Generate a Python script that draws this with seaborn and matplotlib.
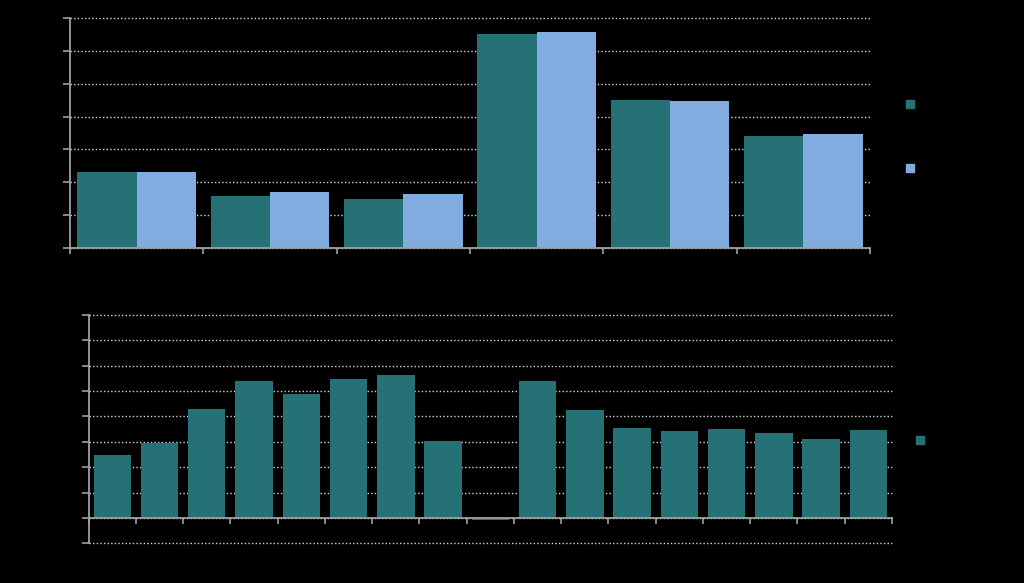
import numpy as np
import pandas as pd
import matplotlib
matplotlib.use('Agg')
import matplotlib.pyplot as plt
from matplotlib.lines import Line2D
import seaborn as sns

sns.set_style('dark')
plt.rcParams['font.family'] = ['DejaVu Sans']

# top panel: two series per group
top_categories = ['1', '2', '3', '4', '5', '6']
top_series_names = ['Series 1', 'Series 2']
top_series_a = [2.30, 1.59, 1.50, 6.51, 4.50, 3.40]
top_series_b = [2.30, 1.70, 1.64, 6.57, 4.48, 3.46]

# bottom panel: single series
bottom_categories = [str(i) for i in range(1, 18)]
bottom_series_name = 'Series 1'
bottom_values = [2.48, 2.97, 4.28, 5.41, 4.87, 5.47, 5.62, 3.02, -0.08,
                 5.41, 4.24, 3.53, 3.44, 3.49, 3.35, 3.10, 3.46]

teal = '#267176'
lightblue = '#82abe0'
axis_col = '#a0a0a0'
grid_col = '#d8d8d8'
txt_col = 'black'

fig = plt.figure(figsize=(10.24, 5.83), dpi=100, facecolor='black')
ax1 = fig.add_axes([70 / 1024, 1 - 248 / 583, 800 / 1024, 230 / 583])
ax2 = fig.add_axes([88.7 / 1024, 1 - 543.3 / 583, 803.3 / 1024, 228.3 / 583])

df_top = pd.DataFrame({
    'category': top_categories * 2,
    'series': [top_series_names[0]] * 6 + [top_series_names[1]] * 6,
    'value': top_series_a + top_series_b,
})
sns.barplot(data=df_top, x='category', y='value', hue='series', ax=ax1,
            palette=[teal, lightblue], width=0.89, gap=0, saturation=1,
            legend=False, linewidth=0)

df_bot = pd.DataFrame({'category': bottom_categories, 'value': bottom_values})
sns.barplot(data=df_bot, x='category', y='value', ax=ax2, color=teal,
            width=0.79, saturation=1, linewidth=0)


def style(ax, n, ymin, ymax):
    ax.set_facecolor('black')
    ax.set_xlim(-0.5, n - 0.5)
    ax.set_ylim(ymin, ymax)
    ax.set_xlabel('')
    ax.set_ylabel('')
    ax.set_yticks(np.arange(ymin, ymax + 1))
    ax.yaxis.grid(True, color=grid_col, linestyle=(0, (1, 1.6)), linewidth=1)
    for gl in ax.yaxis.get_gridlines():
        gl.set_clip_on(False)
    ax.xaxis.grid(False)
    ax.set_axisbelow(True)
    for s in ['top', 'right']:
        ax.spines[s].set_visible(False)
    for s in ['left', 'bottom']:
        ax.spines[s].set_visible(True)
        ax.spines[s].set_color(axis_col)
        ax.spines[s].set_linewidth(1.3)
        ax.spines[s].set_zorder(3)
    ax.spines['bottom'].set_position(('data', 0))
    # category boundaries as ticks, labels at centres
    ax.set_xticks(np.arange(-0.5, n, 1.0))
    ax.set_xticklabels([])
    ax.set_xticks(np.arange(n), minor=True)
    ax.tick_params(axis='x', which='major', bottom=True, direction='out',
                   length=4, color=axis_col, width=1.2)
    ax.tick_params(axis='x', which='minor', bottom=False, length=0,
                   labelcolor=txt_col, labelsize=10)
    ax.tick_params(axis='y', left=True, direction='out', length=5,
                   color=axis_col, width=1.2, labelcolor=txt_col, labelsize=10)


style(ax1, len(top_categories), 0, 7)
ax1.set_xticklabels(top_categories, minor=True)
style(ax2, len(bottom_categories), -1, 8)
ax2.set_xticklabels(bottom_categories, minor=True)

h1 = [Line2D([], [], marker='s', linestyle='', markersize=6, color=c)
      for c in [teal, lightblue]]
leg1 = ax1.legend(h1, top_series_names, loc='center left',
                  bbox_to_anchor=(1.026, 0.485), frameon=False,
                  labelspacing=3.6, handlelength=1, fontsize=10)
for t in leg1.get_texts():
    t.set_color(txt_col)

h2 = [Line2D([], [], marker='s', linestyle='', markersize=6, color=teal)]
leg2 = ax2.legend(h2, [bottom_series_name], loc='center left',
                  bbox_to_anchor=(1.011, 0.45), frameon=False,
                  handlelength=1, fontsize=10)
for t in leg2.get_texts():
    t.set_color(txt_col)

fig.savefig('out.png', dpi=100, facecolor='black')
